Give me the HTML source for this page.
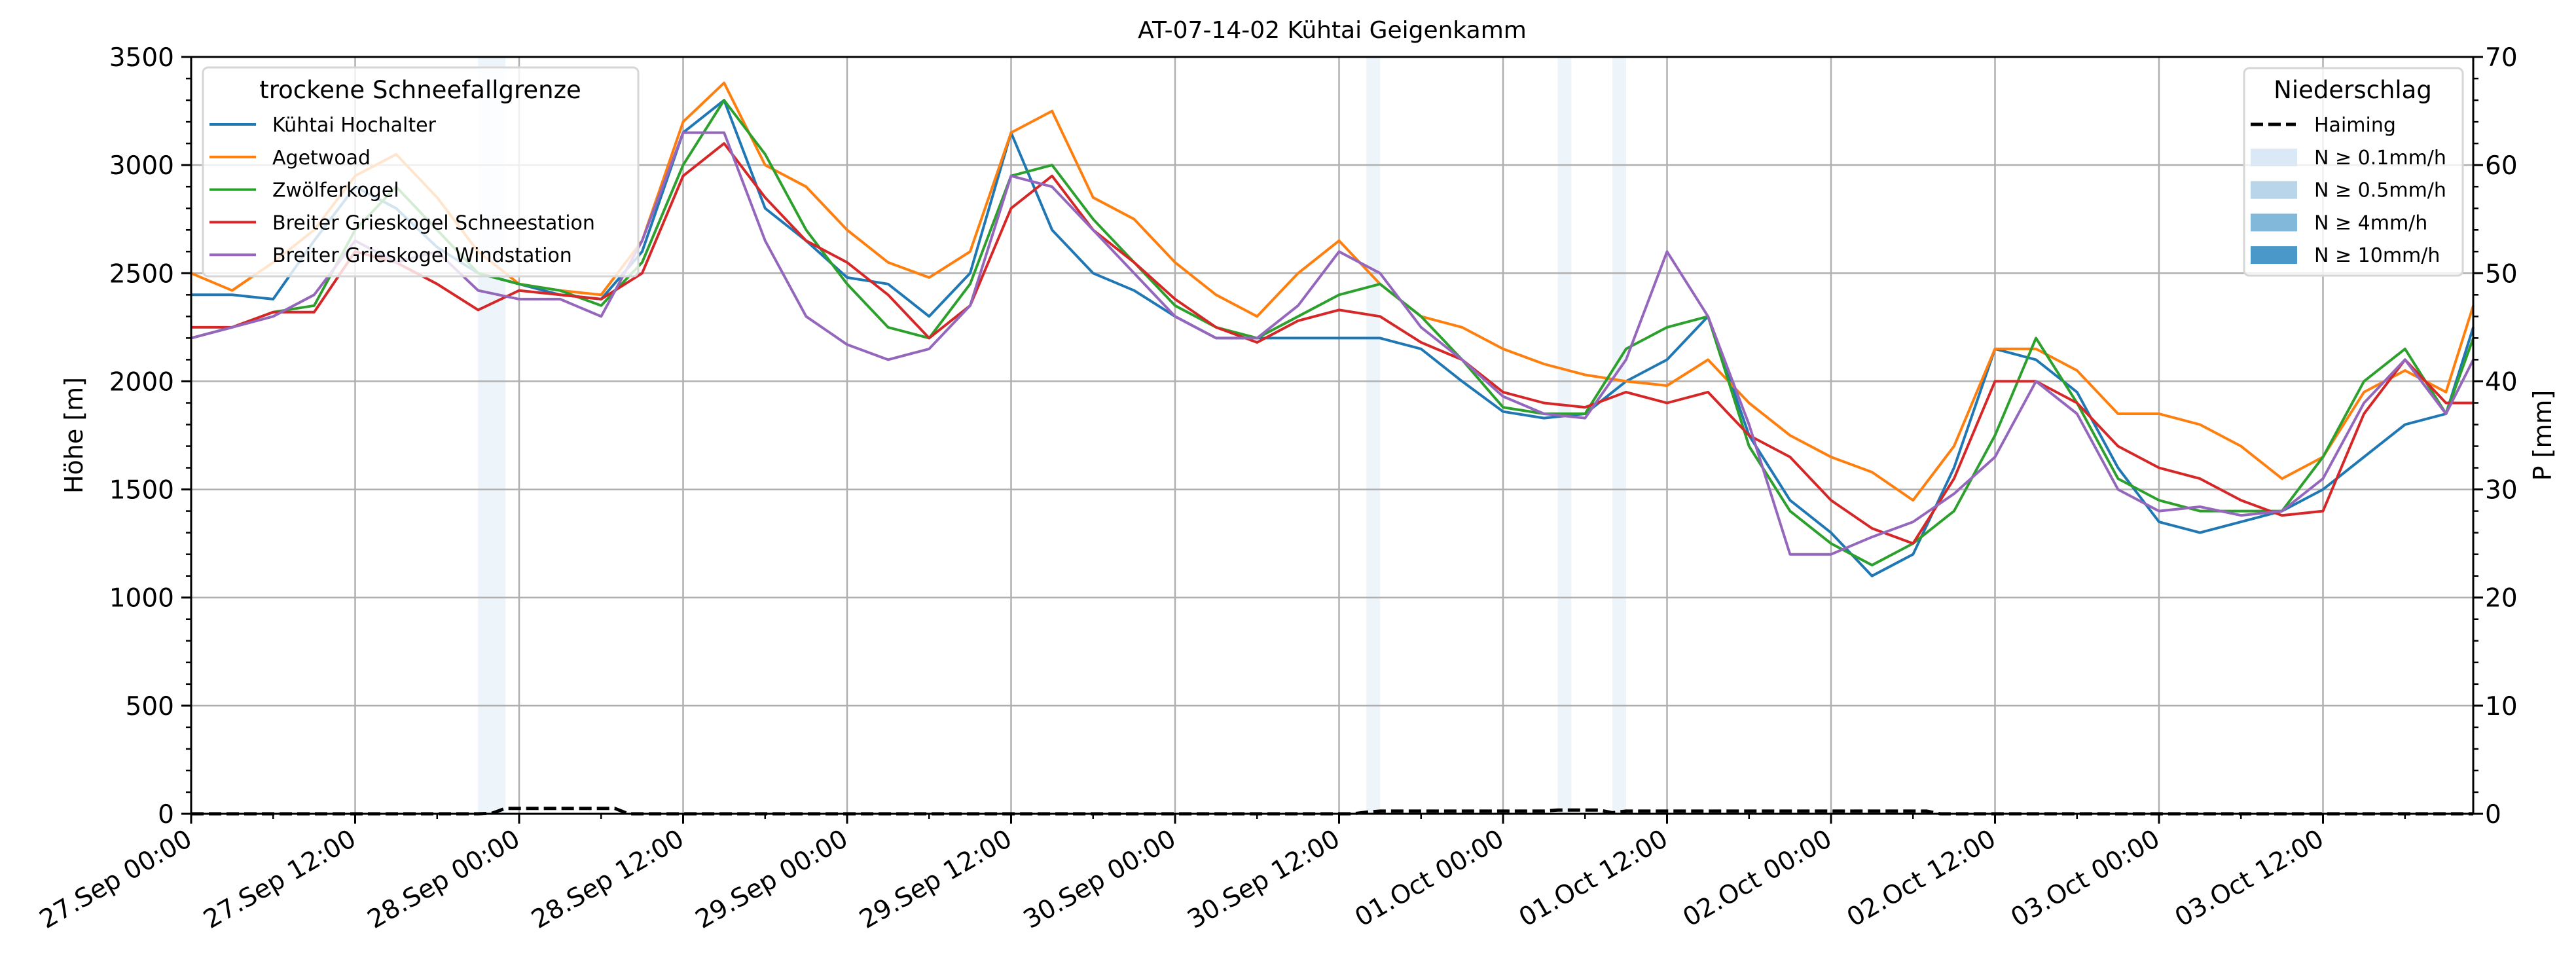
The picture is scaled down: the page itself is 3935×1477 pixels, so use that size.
<!DOCTYPE html>
<html><head><meta charset="utf-8">
<style>
html,body{margin:0;padding:0;background:#fff;}
svg{display:block;font-family:"DejaVu Sans","Liberation Sans",sans-serif;}
</style></head>
<body>
<svg id="chart" width="3935" height="1477" viewBox="0 0 3935 1477" xmlns="http://www.w3.org/2000/svg">
<rect x="0" y="0" width="3935" height="1477" fill="#fff"/>
<g id="shades"></g>
<g id="grid"></g>
<g id="series"></g>
<g id="axes"></g>
<text x="2035" y="58" font-size="36" text-anchor="middle">AT-07-14-02 Kühtai Geigenkamm</text>
<text x="0" y="0" font-size="38" text-anchor="middle" transform="translate(126,665) rotate(-90)">Höhe [m]</text>
<text x="0" y="0" font-size="38" text-anchor="middle" transform="translate(3897,665) rotate(-90)">P [mm]</text>
<g id="legend-left">
<rect x="310" y="103" width="665" height="319" rx="8" fill="#fff" fill-opacity="0.8" stroke="#d6d6d6" stroke-width="3"/>
<text x="642" y="150" font-size="37" text-anchor="middle">trockene Schneefallgrenze</text>
</g>
<g id="legend-right">
<rect x="3428" y="104" width="334" height="317" rx="8" fill="#fff" fill-opacity="0.8" stroke="#d6d6d6" stroke-width="3"/>
<text x="3594" y="150" font-size="37" text-anchor="middle">Niederschlag</text>
</g>
</svg>
<script>
// ---- data (values sampled every 3 hours from 27.Sep 00:00; last sample at hour 167) ----
const hours = [0,3,6,9,12,15,18,21,24,27,30,33,36,39,42,45,48,51,54,57,60,63,66,69,72,75,78,81,84,87,90,93,96,99,102,105,108,111,114,117,120,123,126,129,132,135,138,141,144,147,150,153,156,159,162,165,167];
const hochalter = [2400,2400,2380,2650,2900,2800,2620,2500,2450,2400,2380,2600,3150,3300,2800,2650,2480,2450,2300,2500,3150,2700,2500,2420,2300,2200,2200,2200,2200,2200,2150,2000,1860,1830,1850,2000,2100,2300,1750,1450,1300,1100,1200,1600,2150,2100,1950,1600,1350,1300,1350,1400,1500,1650,1800,1850,2250];
const agetwoad = [2500,2420,2550,2700,2950,3050,2850,2600,2450,2420,2400,2650,3200,3380,3000,2900,2700,2550,2480,2600,3150,3250,2850,2750,2550,2400,2300,2500,2650,2450,2300,2250,2150,2080,2030,2000,1980,2100,1900,1750,1650,1580,1450,1700,2150,2150,2050,1850,1850,1800,1700,1550,1650,1950,2050,1950,2350];
const zwoelferkogel = [2200,2250,2320,2350,2700,2900,2700,2500,2450,2420,2350,2550,3000,3300,3050,2700,2450,2250,2200,2450,2950,3000,2750,2550,2350,2250,2200,2300,2400,2450,2300,2100,1880,1850,1850,2150,2250,2300,1700,1400,1250,1150,1250,1400,1750,2200,1900,1550,1450,1400,1400,1400,1650,2000,2150,1850,2200];
const schneestation = [2250,2250,2320,2320,2600,2550,2450,2330,2420,2400,2380,2500,2950,3100,2850,2650,2550,2400,2200,2350,2800,2950,2700,2550,2380,2250,2180,2280,2330,2300,2180,2100,1950,1900,1880,1950,1900,1950,1750,1650,1450,1320,1250,1550,2000,2000,1900,1700,1600,1550,1450,1380,1400,1850,2100,1900,1900];
const windstation = [2200,2250,2300,2400,2650,2550,2600,2420,2380,2380,2300,2650,3150,3150,2650,2300,2170,2100,2150,2350,2950,2900,2700,2500,2300,2200,2200,2350,2600,2500,2250,2100,1930,1850,1830,2100,2600,2300,1800,1200,1200,1280,1350,1480,1650,2000,1850,1500,1400,1420,1380,1400,1550,1900,2100,1850,2100];
// hourly precipitation Haiming [mm], hour 0..167
const haiming = [0,0,0,0,0,0,0,0,0,0,0,0,0,0,0,0,0,0,0,0,0,0,0.05,0.5,0.5,0.5,0.5,0.5,0.5,0.5,0.5,0.5,0,0,0,0,0,0,0,0,0,0,0,0,0,0,0,0,0,0,0,0,0,0,0,0,0,0,0,0,0,0,0,0,0,0,0,0,0,0,0,0,0,0,0,0,0,0,0,0,0,0,0,0,0,0,0.15,0.25,0.25,0.25,0.25,0.25,0.25,0.25,0.25,0.25,0.25,0.25,0.25,0.25,0.35,0.35,0.35,0.35,0.1,0.25,0.25,0.25,0.25,0.25,0.25,0.25,0.25,0.25,0.25,0.25,0.25,0.25,0.25,0.25,0.25,0.25,0.25,0.25,0.25,0.25,0.25,0.25,0,0,0,0,0,0,0,0,0,0,0,0,0,0,0,0,0,0,0,0,0,0,0,0,0,0,0,0,0,0,0,0,0,0,0,0,0,0,0,0];
// precipitation events N >= 0.1mm/h: start hour and duration (h)
const shadeStart = [21,86,100,104];
const shadeDur = [2,1,1,1];
const xTickLabels = ["27.Sep 00:00","27.Sep 12:00","28.Sep 00:00","28.Sep 12:00","29.Sep 00:00","29.Sep 12:00","30.Sep 00:00","30.Sep 12:00","01.Oct 00:00","01.Oct 12:00","02.Oct 00:00","02.Oct 12:00","03.Oct 00:00","03.Oct 12:00"];
const yTicks = [0,500,1000,1500,2000,2500,3000,3500];
const y2Ticks = [0,10,20,30,40,50,60,70];
const seriesNames = ["Kühtai Hochalter","Agetwoad","Zwölferkogel","Breiter Grieskogel Schneestation","Breiter Grieskogel Windstation"];
const legendPatchLabels = ["N ≥ 0.1mm/h","N ≥ 0.5mm/h","N ≥ 4mm/h","N ≥ 10mm/h"];

// ---- layout ----
const L=292,R=3778,T=87,B=1243;
const hourPx=250.5/12;
const xs=h=>L+h*hourPx;
const ys=v=>B-(v/3500)*(B-T);
const y2s=v=>B-(v/70)*(B-T);
const NS="http://www.w3.org/2000/svg";
function mk(tag,attrs,parent){const e=document.createElementNS(NS,tag);for(const k in attrs)e.setAttribute(k,attrs[k]);parent.appendChild(e);return e;}
const gShades=document.getElementById('shades'),gGrid=document.getElementById('grid'),gSeries=document.getElementById('series'),gAxes=document.getElementById('axes');

shadeStart.forEach((s,i)=>{
  const r=mk('rect',{x:xs(s),y:T,width:shadeDur[i]*hourPx,height:B-T,fill:'#dbe9f6','fill-opacity':0.5},gShades);
  
  
});
xTickLabels.forEach((lab,i)=>{
  const x=xs(i*12);
  const l=mk('line',{x1:x,x2:x,y1:T,y2:B,stroke:'#b0b0b0','stroke-width':2.5},gGrid);
  
  
});
yTicks.forEach(v=>{
  const l=mk('line',{x1:L,x2:R,y1:ys(v),y2:ys(v),stroke:'#b0b0b0','stroke-width':2.5},gGrid);
  
  
});
const colors=['#1f77b4','#ff7f0e','#2ca02c','#d62728','#9467bd'];
const allSeries=[hochalter,agetwoad,zwoelferkogel,schneestation,windstation];
const seriesIds=['line-kuehtai-hochalter','line-agetwoad','line-zwoelferkogel','line-schneestation','line-windstation'];
allSeries.forEach((arr,si)=>{
  const pts=arr.map((v,i)=>xs(hours[i]).toFixed(1)+','+ys(v).toFixed(1)).join(' ');
  const p=mk('polyline',{points:pts,fill:'none',stroke:colors[si],'stroke-width':4,'stroke-linejoin':'round'},gSeries);
  
  
});
{
  const pts=haiming.map((v,i)=>xs(i).toFixed(1)+','+y2s(v).toFixed(1)).join(' ');
  const p=mk('polyline',{points:pts,fill:'none',stroke:'#000','stroke-width':5,'stroke-dasharray':'19,8'},gSeries);
  
  
}
const fr=mk('rect',{x:L,y:T,width:R-L,height:B-T,fill:'none',stroke:'#000','stroke-width':3},gAxes);


for(let v=0;v<=3500;v+=100){
  const maj=v%500===0;
  mk('line',{x1:L,x2:L-(maj?15:8),y1:ys(v),y2:ys(v),stroke:'#000','stroke-width':maj?3:2.5},gAxes);
}
yTicks.forEach(v=>{
  const t=mk('text',{x:L-26,y:ys(v)+14,'font-size':39,'text-anchor':'end'},gAxes);
  t.textContent=v;
  
  
});
for(let v=0;v<=70;v+=2){
  const maj=v%10===0;
  mk('line',{x1:R,x2:R+(maj?15:8),y1:y2s(v),y2:y2s(v),stroke:'#000','stroke-width':maj?3:2.5},gAxes);
}
y2Ticks.forEach(v=>{
  const t=mk('text',{x:R+18,y:y2s(v)+14,'font-size':39,'text-anchor':'start'},gAxes);
  t.textContent=v;
  
  
});
for(let h=0;h<=167;h+=6){
  const maj=h%12===0;
  mk('line',{x1:xs(h),x2:xs(h),y1:B,y2:B+(maj?15:8),stroke:'#000','stroke-width':maj?3:2.5},gAxes);
}
xTickLabels.forEach((lab,i)=>{
  const x=xs(i*12);
  const t=mk('text',{x:0,y:0,'font-size':39,'text-anchor':'end',transform:`translate(${x+4},${B+46}) rotate(-30)`},gAxes);
  t.textContent=lab;
  
  
});
const gl=document.getElementById('legend-left');
seriesNames.forEach((n,i)=>{
  const y=190+i*49.8;
  const l=mk('line',{x1:320,x2:391,y1:y,y2:y,stroke:colors[i],'stroke-width':4},gl);
  
  
  const t=mk('text',{x:416,y:y+11,'font-size':30},gl);
  t.textContent=n;
  
  
});
const gr=document.getElementById('legend-right');
{
  const l=mk('line',{x1:3438,x2:3507,y1:190,y2:190,stroke:'#000','stroke-width':5,'stroke-dasharray':'19,8'},gr);
  
  
  const t=mk('text',{x:3535,y:201,'font-size':30},gr);
  t.textContent='Haiming';
  
  
}
const patchColors=['#dbe9f6','#b9d5ea','#82b8d9','#4a98c9'];
legendPatchLabels.forEach((n,i)=>{
  const y=240+i*49.7;
  const r=mk('rect',{x:3438,y:y-13,width:71,height:27,fill:patchColors[i]},gr);
  
  
  const t=mk('text',{x:3535,y:y+11,'font-size':30},gr);
  t.textContent=n;
  
  
});
</script>
</body></html>
